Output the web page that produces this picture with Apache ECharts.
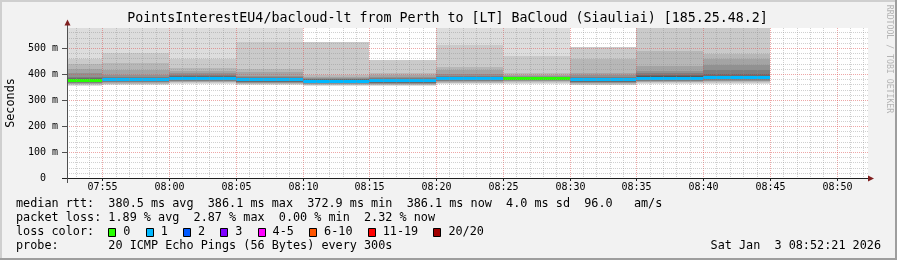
<!DOCTYPE html>
<html><head><meta charset="utf-8">
<script src="https://cdn.jsdelivr.net/npm/echarts@6/dist/echarts.min.js"></script>
<style>html,body{margin:0;padding:0;background:#f2f2f2;}#c{width:897px;height:260px;}</style>
</head><body><div id="c"></div>
<script>
// ---- data ----
const segmentEnds = ['07:55','08:00','08:05','08:10','08:15','08:20','08:25','08:30','08:35','08:40','08:45'];
const medianMs   = [374.5, 377.5, 384.5, 377.5, 373.0, 374.0, 384.5, 384.0, 378.0, 384.5, 386.1];
const lossCount  = [0, 1, 1, 1, 1, 1, 1, 0, 1, 1, 1];
// 20 sorted ping rtts (ms) per 5-minute step
const smokeMs = [
  [355,358,361,363,365,366,368,370,372,373.5, 375.5,377,379,383,390,403,421,440,459,620],
  [356,360,363,366,368,370,372,374,375.5,376.8, 378.2,379.5,381,384,390,398,414,443,481,620],
  [360,365,368,371,373,375,377,379,381,383, 385,386.5,388,390.5,395,402,412,424,459,620],
  [356,360,362,364,366,368,370,372,374,376, 379,380.5,382.5,384.5,388,394,407,420,524,620],
  [354,356,358,360,362,364,366,368,370,371.7, 374.3,375.5,377,379,382,386,390,396,524,524],
  [355,357,359,361,363,365,367,369,371,372.7, 375.3,377,379,381,384,389,395,404,454,454],
  [360,364,367,370,373,375,377,379,381,383.2, 385.8,387,388,390,393,401,414,426,511,620],
  [361,366,370,373,375,377,379,380.5,382,383.3, 384.7,385.3,386,386.8,388,391,396,403,470,620],
  [356,359,362,365,367,369,371,373,375,376.5, 379.5,381,383,386,390,396,405,459,504,504],
  [360,364,368,371,373,375,377,379,381,383, 386,389,392,396,402,410,432,490,620,620],
  [362,366,370,373,375,377,379,381,383,384.6, 388,391,394,400,414,436,458,476,620,620]
];
const xTickLabels = ['07:55','08:00','08:05','08:10','08:15','08:20','08:25','08:30','08:35','08:40','08:45','08:50'];
const yTicksMs = [0,100,200,300,400,500];
const smokeGrays = ['#dddddd','#cacaca','#b7b7b7','#a4a4a4','#919191','#7e7e7e','#6b6b6b','#585858','#454545','#323232'];
const lossLabels = ['0','1','2','3','4-5','6-10','11-19','20/20'];
const lossColors = ['#26ff00','#00b8ff','#0059ff','#7e00ff','#ff00ff','#ff5500','#ff0000','#a10000'];
const lossUpper  = [0,1,2,3,5,10,19,20];
const titleText = 'PointsInterestEU4/bacloud-lt from Perth to [LT] BaCloud (Siauliai) [185.25.48.2]';
const medianLine = 'median rtt:  380.5 ms avg  386.1 ms max  372.9 ms min  386.1 ms now  4.0 ms sd  96.0   am/s';
const lossLine = 'packet loss: 1.89 % avg  2.87 % max  0.00 % min  2.32 % now';
const probeLine = 'probe:       20 ICMP Echo Pings (56 Bytes) every 300s';
const stampText = 'Sat Jan  3 08:52:21 2026';

// ---- helpers ----
const FONT = '"DejaVu Sans Mono", monospace';
function ts(hhmm, s){ const [h,m]=hhmm.split(':').map(Number); return new Date(2026,0,3,h,m,s||0).getTime(); }
const xMin = ts('07:52',21), xMax = ts('08:52',21);
function lossColor(n){ for(let i=0;i<lossUpper.length;i++){ if(n<=lossUpper[i]) return lossColors[i]; } return lossColors[lossColors.length-1]; }
const MINOR_GRID = 'rgba(143,143,143,0.42)', MAJOR_GRID = 'rgba(222,79,79,0.5)';

// grid line positions (one per minute / per 20 ms), derived from the axis range
const minuteLines = [];
for(let t=ts('07:53'); t<xMax; t+=60000) minuteLines.push(t);
const msLines = [];
for(let v=20; v<577; v+=20) msLines.push(v);

const chart = echarts.init(document.getElementById('c'), null, {renderer:'canvas'});

function txt(text, x, y, opts){
  opts = opts||{};
  return {type:'text', x:x, y:y, rotation:opts.rotation||0, z:50,
    style:{text:text, fontFamily:FONT, fontSize:opts.size||11.8, fill:opts.color||'#000',
      align:opts.align||'left', verticalAlign:'middle', textAlign:opts.align||'left', textVerticalAlign:'middle'}};
}

const graphics = [
  {type:'rect', shape:{x:0,y:0,width:897,height:2}, style:{fill:'#cfcfcf'}, z:1},
  {type:'rect', shape:{x:0,y:0,width:2,height:260}, style:{fill:'#cfcfcf'}, z:1},
  {type:'rect', shape:{x:0,y:258,width:897,height:2}, style:{fill:'#9e9e9e'}, z:1},
  {type:'rect', shape:{x:895,y:0,width:2,height:260}, style:{fill:'#9e9e9e'}, z:1},
  txt(titleText, 447.5, 19, {size:13.3, align:'center'}),
  txt('Seconds', 10.5, 103, {rotation:Math.PI/2, align:'center'}),
  txt('RRDTOOL / TOBI OETIKER', 889, 59, {rotation:-Math.PI/2, align:'center', size:8.2, color:'#b4b4b4'}),
  {type:'line', shape:{x1:62,y1:178.5,x2:870,y2:178.5}, style:{stroke:'#202020',lineWidth:1}, z:40},
  {type:'line', shape:{x1:67.5,y1:183,x2:67.5,y2:24}, style:{stroke:'#505050',lineWidth:1}, z:40},
  {type:'polygon', shape:{points:[[868,175.5],[874,178.5],[868,181.5]]}, style:{fill:'#801f1f'}, z:41},
  {type:'polygon', shape:{points:[[64.5,25.5],[67.5,19.5],[70.5,25.5]]}, style:{fill:'#801f1f'}, z:41},
  txt(medianLine, 16, 204),
  txt(lossLine, 16, 218.3),
  txt('loss color:', 16, 232.3),
  txt(probeLine, 16, 246.3),
  txt(stampText, 881, 246.3, {align:'right'})
];
const boxX = [108.3,145.7,183,220.3,257.6,309.1,367.7,433.4];
lossLabels.forEach((l,i)=>{
  graphics.push({type:'rect', shape:{x:Math.round(boxX[i])+0.5,y:228.5,width:7,height:8}, style:{fill:lossColors[i],stroke:'#000',lineWidth:1}, z:45});
  graphics.push(txt(l, boxX[i]+15, 232.3));
});

function pad(n){return (n<10?'0':'')+n;}

const option = {
  animation:false,
  backgroundColor:'#f2f2f2',
  grid:{left:67, top:28, width:801, height:150, show:true, backgroundColor:'#ffffff', borderWidth:0, containLabel:false},
  xAxis:{type:'time', min:xMin, max:xMax, show:true,
    axisLine:{show:false}, axisTick:{show:false}, axisLabel:{show:false}, splitLine:{show:false}
  },
  yAxis:{type:'value', min:0, max:0.577, interval:0.1,
    axisLine:{show:false},
    axisTick:{show:true, length:5, lineStyle:{color:'#505050'}},
    splitLine:{show:false},
    axisLabel:{fontFamily:FONT, fontSize:10, color:'#000', margin:9, showMaxLabel:false,
      formatter:v=>{const ms=Math.round(v*1000); if(yTicksMs.indexOf(ms)<0) return ''; return ms===0?'0  ':ms+' m';}}
  },
  series:[{
    type:'custom', z:2, clip:true,
    data: segmentEnds.map((t,i)=>[ts(t), medianMs[i]/1000]),
    encode:{x:0, y:1},
    renderItem:(params, api)=>{
      const i = params.dataIndex;
      const endT = api.value(0), startT = endT - 300000;
      const cs = params.coordSys;
      let x0 = api.coord([startT,0])[0], x1 = api.coord([endT,0])[0];
      x0 = Math.round(Math.max(x0, cs.x)); x1 = Math.round(Math.min(x1, cs.x+cs.width));
      const cy = y => Math.max(cs.y, Math.min(cs.y+cs.height, y));
      const p = smokeMs[i];
      const children = [];
      for(let b=0;b<10;b++){
        const yLo = Math.round(cy(api.coord([endT, p[b]/1000])[1]));
        const yHi = Math.round(cy(api.coord([endT, p[19-b]/1000])[1]));
        if(yLo-yHi<=0) continue;
        children.push({type:'rect', shape:{x:x0,y:yHi,width:x1-x0,height:yLo-yHi}, style:{fill:smokeGrays[b]}});
      }
      const ym = api.coord([endT, medianMs[i]/1000])[1];
      children.push({type:'rect', shape:{x:x0,y:Math.round(ym-1.5),width:x1-x0,height:3}, style:{fill:lossColor(lossCount[i])}});
      return {type:'group', children};
    }
  },{
    // vertical grid lines, x ticks and labels
    type:'custom', z:10, clip:false, silent:true,
    data: minuteLines.map(t=>[t, 0]),
    encode:{x:0, y:1},
    renderItem:(params, api)=>{
      const t = api.value(0);
      const cs = params.coordSys;
      const x = Math.round(api.coord([t,0])[0]) + 0.5;
      const d = new Date(t);
      const lbl = pad(d.getHours())+':'+pad(d.getMinutes());
      const major = xTickLabels.indexOf(lbl) >= 0;
      const children = [{type:'line', shape:{x1:x,y1:cs.y,x2:x,y2:cs.y+cs.height}, style:{stroke:major?MAJOR_GRID:MINOR_GRID, lineWidth:1, lineDash:[1,1]}}];
      if(major){
        children.push({type:'line', shape:{x1:x,y1:cs.y+cs.height,x2:x,y2:cs.y+cs.height+3}, style:{stroke:'#202020', lineWidth:1}});
        children.push({type:'text', x:x, y:cs.y+cs.height+9.5, style:{text:lbl, fontFamily:FONT, fontSize:10, fill:'#000', align:'center', verticalAlign:'middle', textAlign:'center', textVerticalAlign:'middle'}});
      }
      return {type:'group', children};
    }
  },{
    // horizontal grid lines
    type:'custom', z:10, clip:false, silent:true,
    data: msLines.map(v=>[xMin, v/1000]),
    encode:{x:0, y:1},
    renderItem:(params, api)=>{
      const v = api.value(1);
      const cs = params.coordSys;
      const y = Math.round(api.coord([xMin, v])[1]) + 0.5;
      const major = yTicksMs.indexOf(Math.round(v*1000)) >= 0;
      return {type:'line', shape:{x1:cs.x,y1:y,x2:cs.x+cs.width,y2:y}, style:{stroke:major?MAJOR_GRID:MINOR_GRID, lineWidth:1, lineDash:[1,1]}};
    }
  }],
  graphic: graphics
};
chart.setOption(option);
</script></body></html>
